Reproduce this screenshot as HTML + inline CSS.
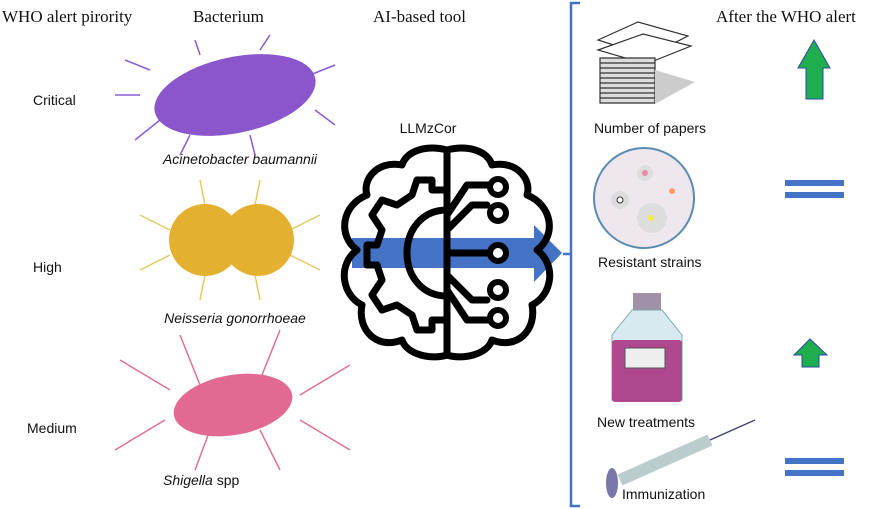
<!DOCTYPE html>
<html><head><style>body{margin:0;background:#fff}svg{display:block}</style></head><body>
<svg width="886" height="509" viewBox="0 0 886 509" xmlns="http://www.w3.org/2000/svg">
<g font-family="Liberation Serif, serif" font-size="17" fill="#111">
<text x="2" y="22">WHO alert pirority</text>
<text x="193" y="22">Bacterium</text>
<text x="373" y="22">AI-based tool</text>
<text x="716" y="22">After the WHO alert</text>
</g>
<g font-family="Liberation Sans, sans-serif" font-size="14" fill="#111">
<text x="33" y="105">Critical</text>
<text x="33" y="272">High</text>
<text x="27" y="433">Medium</text>
<text x="240" y="164" text-anchor="middle" font-style="italic">Acinetobacter baumannii</text>
<text x="235" y="323" text-anchor="middle" font-style="italic">Neisseria gonorrhoeae</text>
<text x="163" y="485"><tspan font-style="italic">Shigella</tspan> spp</text>
<text x="428" y="133" text-anchor="middle">LLMzCor</text>
<text x="594" y="133">Number of papers</text>
<text x="598" y="267">Resistant strains</text>
<text x="597" y="427">New treatments</text>
<text x="622" y="499">Immunization</text>
</g>
<!-- bacteria -->
<g stroke-width="1.5" fill="none">
<g stroke="#8a5ad8">
<path d="M150 70l-25-10M160 120l-25 20M200 55l-5-15M260 50l10-15M310 75l25-10M315 110l20 15M250 135l5 20M190 135l-10 20M140 95l-25 0"/>
</g>
<g stroke="#e8c860">
<path d="M170 230l-30-15M170 255l-30 15M205 205l-5-25M255 205l5-25M290 230l30-15M290 255l30 15M205 275l-5 25M255 275l5 25"/>
</g>
<g stroke="#e07090">
<path d="M170 390l-50-30M165 420l-50 30M200 385l-20-50M260 380l20-50M300 395l50-30M300 420l50 30M210 430l-15 40M260 430l20 40"/>
</g>
</g>
<ellipse cx="235" cy="95" rx="82" ry="38" transform="rotate(-12 235 95)" fill="#8b55cc"/>
<circle cx="205" cy="240" r="36" fill="#e4b030"/>
<circle cx="258" cy="240" r="36" fill="#e4b030"/>
<ellipse cx="233" cy="405" rx="60" ry="30" transform="rotate(-10 233 405)" fill="#e26a92"/>
<!-- arrow -->
<path d="M352 238H534V225L562 253L534 282V268H352Z" fill="#4472c4"/>
<!-- brain -->
<g fill="none" stroke="#000" stroke-width="7" stroke-linecap="round" stroke-linejoin="round">
<path d="M447 150V355"/>
<path d="M447 150c-20-5-40 0-45 15c-25-5-40 15-35 30c-25 10-30 40-10 55c-20 15-15 45 5 55c-5 25 15 45 40 35c5 15 30 20 45 15"/>
<path d="M447 150c20-5 40 0 45 15c25-5 40 15 35 30c25 10 30 40 10 55c20 15 15 45-5 55c5 25-15 45-40 35c-5 15-30 20-45 15"/>
<path d="M447 210c-25 0-40 20-40 43s15 43 40 43"/>
<path d="M447 190h-15v-10h-15l-5 15l-15 10l-15-5l-10 15l10 15l-5 15h-10v20h10l5 15l-10 15l10 15l15-5l15 10l5 15h15v-10h15"/>
<path d="M447 253h40M447 230l25-25h15M447 275l25 25h15M447 215l20-30h25M447 290l20 30h25"/>
</g>
<g fill="#fff" stroke="#000" stroke-width="6">
<circle cx="498" cy="187" r="8"/><circle cx="498" cy="213" r="8"/><circle cx="498" cy="253" r="8"/><circle cx="498" cy="290" r="8"/><circle cx="498" cy="318" r="8"/>
</g>
<!-- bracket -->
<path d="M580 3H571V506H580M571 254H563" fill="none" stroke="#4472c4" stroke-width="2.5"/>
<!-- papers -->
<g fill="#fff" stroke="#333" stroke-width="1.2">
<path d="M598 40l40-18l50 14l-40 20z"/><path d="M598 50l45-16l48 12l-45 18z"/>
<path d="M600 58h55v45h-55z" fill="#ddd"/>
<path d="M600 63h55M600 68h55M600 73h55M600 78h55M600 83h55M600 88h55M600 93h55M600 98h55"/>
<path d="M655 70l40 12l-40 22" fill="#ccc" stroke="none"/>
</g>
<!-- petri -->
<circle cx="644" cy="198" r="50" fill="#eee8ee" stroke="#5b8bb0" stroke-width="2"/>
<circle cx="645" cy="173" r="8" fill="#ddd"/><circle cx="645" cy="173" r="3" fill="#e8a"/>
<circle cx="620" cy="200" r="9" fill="#ddd"/><circle cx="620" cy="200" r="3" fill="#fff" stroke="#333"/>
<circle cx="652" cy="218" r="15" fill="#ddd"/><circle cx="651" cy="218" r="3" fill="#ee4"/>
<circle cx="672" cy="191" r="3" fill="#f96"/>
<!-- bottle -->
<rect x="633" y="293" width="28" height="17" fill="#a090a8"/>
<path d="M632 310h30l20 25v65h-70v-65z" fill="#d8eaf0" stroke="#7aa" />
<rect x="612" y="340" width="70" height="62" rx="3" fill="#b04890"/>
<rect x="625" y="348" width="40" height="20" fill="#eee" stroke="#555"/>
<!-- syringe -->
<path d="M620 480l90-40" stroke="#bcc" stroke-width="12"/>
<path d="M710 440l45-20" stroke="#447" stroke-width="1.5"/>
<ellipse cx="612" cy="483" rx="6" ry="15" fill="#77a"/>
<!-- arrows -->
<path d="M806 99V68h-8l16-28l16 28h-7v31z" fill="#1eae4e" stroke="#2a4aa0" stroke-width="1"/>
<path d="M802 367V355h-8l16-16l17 16h-8v12z" fill="#1eae4e" stroke="#2a4aa0" stroke-width="1"/>
<g fill="#4472c4"><rect x="785" y="180" width="59" height="6"/><rect x="785" y="192" width="59" height="6"/><rect x="785" y="458" width="59" height="6"/><rect x="785" y="470" width="59" height="6"/></g>
</svg>
</body></html>
